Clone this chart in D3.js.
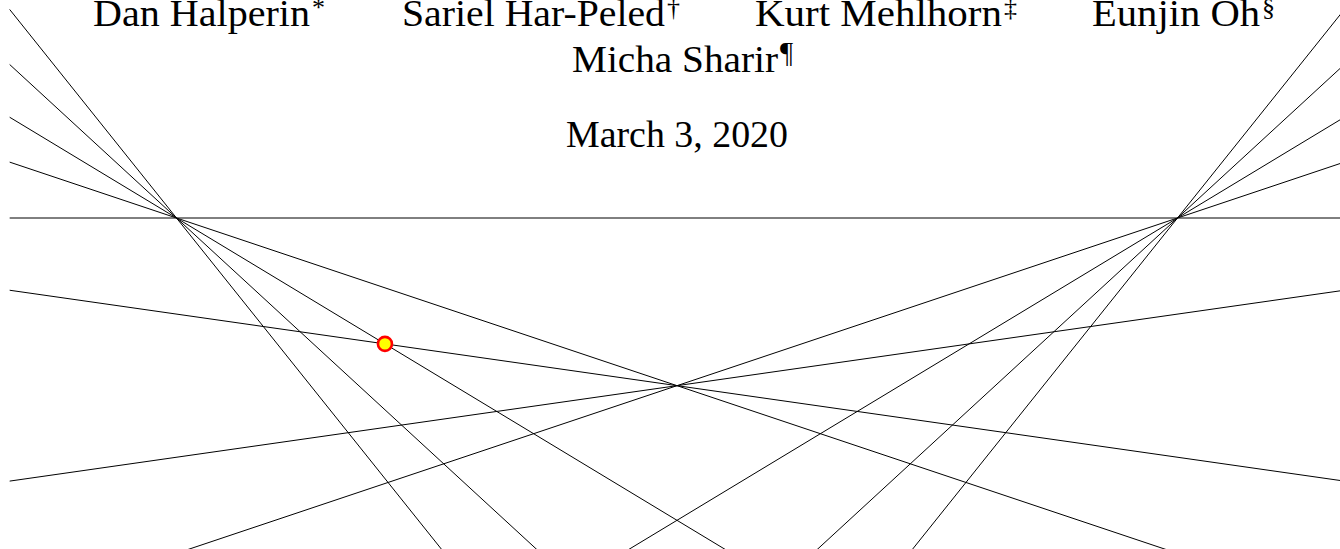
<!DOCTYPE html>
<html>
<head>
<meta charset="utf-8">
<script src="https://cdn.jsdelivr.net/npm/d3@7"></script>
<style>
  html, body { margin: 0; padding: 0; background: #fff; }
  svg { display: block; }
  .line { stroke: #000; stroke-width: 1; fill: none; }
  .title { font-family: "Liberation Serif", "Times New Roman", serif; font-size: 38px; fill: #000; }
  .mark { font-family: "Liberation Serif", "Times New Roman", serif; font-size: 26px; fill: #000; }
</style>
</head>
<body>
<svg width="1340" height="549"></svg>
<script>
// figure units, y points up; the two pencil centres sit at (-1,0) and (1,0)
var pencilLeft = [-1, 0];
var pencilRight = [1, 0];
var leftSlopes = [-1.25, -0.92, -0.604, -0.335];
var rightSlopes = [1.25, 0.92, 0.604, 0.335];
var baseSlopes = [0];
var crossSlopes = [-0.143, 0.143];
var frameX = [-4 / 3, 4 / 3];
var frameY = [-0.7, 0.6];

var authors = ["Dan Halperin", "Sariel Har-Peled", "Kurt Mehlhorn", "Eunjin Oh", "Micha Sharir"];
var thanksMarks = ["*", "\u2020", "\u2021", "\u00a7", "\u00b6"];
var dateLabel = "March 3, 2020";

// layout only (pixels)
var nameLayout = [
    { x: 93, w: 217, y: 26 },
    { x: 402, w: 263, y: 26 },
    { x: 755, w: 247, y: 26 },
    { x: 1092, w: 168, y: 26 },
    { x: 572, w: 206, y: 72 }
];

var svg = d3.select("svg"),
    width = +svg.attr("width"),
    height = +svg.attr("height");

var x = d3.scaleLinear().domain([-1, 1]).range([176.5, 1177.5]);
var y = d3.scaleLinear().domain([0, -1]).range([218, 718.5]);

function line(p, m) { return { p: p, m: m }; }

function meet(a, b) {
    var xi = (b.p[1] - a.p[1] + a.m * a.p[0] - b.m * b.p[0]) / (a.m - b.m);
    return [xi, a.p[1] + a.m * (xi - a.p[0])];
}

// clip an infinite line to the frame box
function clip(l) {
    var lo = frameX[0], hi = frameX[1];
    if (l.m !== 0) {
        var xa = l.p[0] + (frameY[0] - l.p[1]) / l.m,
            xb = l.p[0] + (frameY[1] - l.p[1]) / l.m;
        lo = Math.max(lo, Math.min(xa, xb));
        hi = Math.min(hi, Math.max(xa, xb));
    }
    return [lo, hi].map(function(t) { return [t, l.p[1] + l.m * (t - l.p[0])]; });
}

var lines = [];
baseSlopes.forEach(function(m) { lines.push(line(pencilLeft, m)); });
leftSlopes.forEach(function(m) { lines.push(line(pencilLeft, m)); });
rightSlopes.forEach(function(m) { lines.push(line(pencilRight, m)); });

var centre = meet(line(pencilLeft, leftSlopes[3]), line(pencilRight, rightSlopes[3]));
crossSlopes.forEach(function(m) { lines.push(line(centre, m)); });

var marked = meet(line(pencilLeft, leftSlopes[2]), line(centre, crossSlopes[0]));

var g = svg.append("g");

g.selectAll("line.line")
    .data(lines.map(clip))
    .enter().append("line")
    .attr("class", "line")
    .attr("x1", function(d) { return x(d[0][0]); })
    .attr("y1", function(d) { return y(d[0][1]); })
    .attr("x2", function(d) { return x(d[1][0]); })
    .attr("y2", function(d) { return y(d[1][1]); });

g.append("circle")
    .attr("cx", x(marked[0]))
    .attr("cy", y(marked[1]))
    .attr("r", 7)
    .attr("fill", "#ffff00")
    .attr("stroke", "#ff0000")
    .attr("stroke-width", 2.6);

// title block
var t = svg.append("g");

t.selectAll("text.title")
    .data(authors)
    .enter().append("text")
    .attr("class", "title")
    .attr("x", function(d, i) { return nameLayout[i].x; })
    .attr("y", function(d, i) { return nameLayout[i].y; })
    .attr("textLength", function(d, i) { return nameLayout[i].w; })
    .attr("lengthAdjust", "spacingAndGlyphs")
    .text(function(d) { return d; });

t.selectAll("text.mark")
    .data(thanksMarks)
    .enter().append("text")
    .attr("class", "mark")
    .attr("x", function(d, i) { return nameLayout[i].x + nameLayout[i].w + 2; })
    .attr("y", function(d, i) { return nameLayout[i].y - 10; })
    .style("font-size", function(d, i) { return i === 4 ? "29px" : null; })
    .text(function(d) { return d; });

t.append("text")
    .attr("class", "title")
    .attr("x", 677)
    .attr("y", 147)
    .attr("text-anchor", "middle")
    .attr("textLength", 222)
    .attr("lengthAdjust", "spacingAndGlyphs")
    .text(dateLabel);
</script>
</body>
</html>
